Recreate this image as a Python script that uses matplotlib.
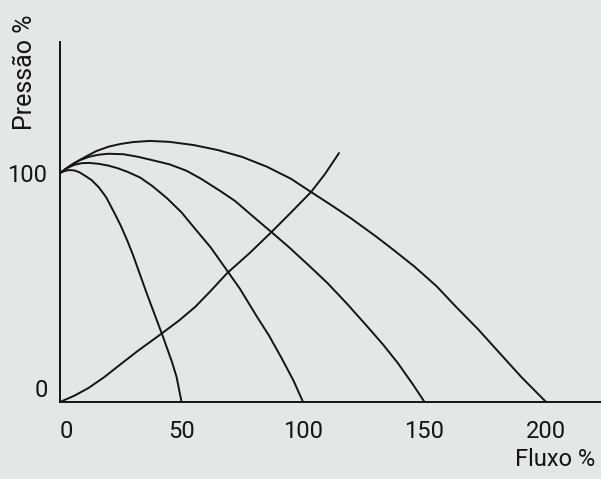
import matplotlib
matplotlib.use("Agg")
import matplotlib.pyplot as plt

# Pump head curves (flow %, pressure %) for four operating speeds
flow_50 = [0, 2, 4, 6, 8, 10, 13, 16, 19, 22.4, 25, 27.6, 30, 32.7, 35.5, 38.2,
           42.1, 46.1, 48, 50]
press_50 = [100, 100.9, 101.3, 101.1, 100.3, 99.0, 96.9, 93.7, 89.4, 82.5, 77.0,
            70.7, 64.3, 56.3, 48.0, 40.3, 29.3, 17.4, 10.8, 0]

flow_100 = [0, 3, 6, 9, 12, 16, 20, 24, 28, 33, 38, 44, 50, 56, 62, 68, 74, 81,
            86, 91, 96, 100]
press_100 = [100, 102.2, 103.6, 104.3, 104.4, 104.0, 103.2, 102.0, 100.4, 98.0,
             94.3, 89.0, 82.8, 75.1, 67.5, 58.5, 49.5, 37.3, 29.0, 19.5, 9.5, 0]

flow_150 = [0, 4, 8, 12, 16, 20, 26, 32, 38, 45, 52, 58, 66, 72, 80, 87, 94, 102,
            110, 118, 126, 133, 139, 145, 150]
press_150 = [100, 103.0, 105.5, 107.1, 108.0, 108.4, 108.2, 107.1, 105.6, 103.8,
             101.0, 97.5, 92.1, 87.8, 80.5, 74.2, 67.8, 60.0, 52.0, 43.0, 33.5,
             25.0, 17.0, 8.0, 0]

flow_200 = [0, 5, 10, 15, 20, 25, 30, 37, 45, 55, 65, 75, 85, 95, 103.3, 112, 120,
            130, 137, 146, 155, 163, 172, 180, 190, 200]
press_200 = [100, 103.8, 106.8, 109.6, 111.5, 112.7, 113.5, 114.0, 113.6, 112.2,
             110.0, 107.0, 102.8, 97.5, 91.7, 85.7, 80.0, 72.3, 66.6, 59.0, 50.5,
             41.5, 31.8, 22.4, 10.7, 0]

# System resistance curve
system_flow = [0, 6, 11.7, 18, 24.6, 32, 42.1, 49, 55.6, 62, 68.8, 78, 87, 95,
               103.3, 109, 114.8]
system_press = [0, 2.8, 6.1, 10.7, 16.2, 22.3, 30.1, 35.6, 41.5, 48.5, 56.3, 65.0,
                74.2, 82.7, 91.7, 99.5, 108.7]

x_ticks = [0, 50, 100, 150, 200]
x_tick_labels = ["0", "50", "100", "150", "200"]
y_ticks = [0, 100]
y_tick_labels = ["0", "100"]

bg = "#e3e7e6"
ink = "#141414"
font = ["Roboto", "DejaVu Sans"]

fig = plt.figure(figsize=(6.01, 4.79), dpi=100, facecolor=bg)
ax = fig.add_axes([60 / 601, 77 / 479, 541 / 601, 360 / 479])
ax.set_facecolor(bg)

for fx, py in [(flow_50, press_50), (flow_100, press_100),
               (flow_150, press_150), (flow_200, press_200),
               (system_flow, system_press)]:
    ax.plot(fx, py, color=ink, lw=1.4, solid_joinstyle="round",
            solid_capstyle="round", clip_on=False)

ax.set_xlim(0, 222.6)
ax.set_ylim(0, 157.2)

for side in ("top", "right"):
    ax.spines[side].set_visible(False)
for side in ("left", "bottom"):
    ax.spines[side].set_color(ink)
    ax.spines[side].set_linewidth(1.4)

ax.set_xticks(x_ticks)
ax.set_xticklabels(x_tick_labels, family=font, fontsize=17, color=ink)
ax.set_yticks(y_ticks)
ax.set_yticklabels(y_tick_labels, family=font, fontsize=17, color=ink)
ax.tick_params(axis="x", length=0, pad=13)
ax.tick_params(axis="y", length=0, pad=9)
ax.get_yticklabels()[0].set_va("bottom")
ax.get_xticklabels()[0].set_ha("left")

fig.text(25 / 601, 1 - 72 / 479, "Pressão %", rotation=90, ha="center", va="center",
         family=font, fontsize=18, color=ink)
fig.text(555 / 601, 1 - 459 / 479, "Fluxo %", ha="center", va="center",
         family=font, fontsize=17, color=ink)

fig.savefig("out.png", dpi=100, facecolor=bg)
